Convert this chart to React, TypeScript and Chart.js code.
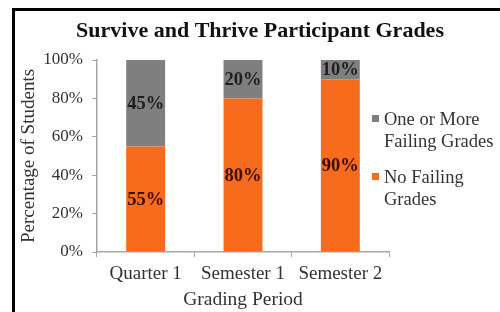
import React, { useEffect, useRef } from "react";
import { Chart, registerables } from "chart.js";

Chart.register(...registerables);

const TITLE = "Survive and Thrive Participant Grades";
const categories = ["Quarter 1", "Semester 1", "Semester 2"];
const noFailing = [55, 80, 90];
const oneOrMore = [45, 20, 10];
const legendNoFailing = ["No Failing", "Grades"];
const legendOneOrMore = ["One or More", "Failing Grades"];
const yTicks = [0, 20, 40, 60, 80, 100];
const xTitle = "Grading Period";
const yTitle = "Percentage of Students";

const ORANGE = "#F66B1C";
const GRAY = "#7F7F80";
const SERIF = "'Liberation Serif', 'Times New Roman', serif";

export default function App() {
  const ref = useRef<HTMLCanvasElement | null>(null);

  useEffect(() => {
    document.body.style.margin = "0";
    const canvas = ref.current;
    if (!canvas) return;

    const decor = {
      id: "decor",
      afterDraw(chart: any) {
        const ctx = chart.ctx;
        ctx.save();
        // frame (left & top)
        ctx.fillStyle = "#000";
        ctx.fillRect(12, 8, 3, 312);
        ctx.fillRect(12, 8, 500, 3);
        // title
        ctx.fillStyle = "#111";
        ctx.font = `bold 22px ${SERIF}`;
        ctx.textAlign = "center";
        ctx.textBaseline = "middle";
        ctx.fillText(TITLE, 260, 31);
        // legend
        const items = [
          { color: GRAY, lines: legendOneOrMore, y: 120 },
          { color: ORANGE, lines: legendNoFailing, y: 178 },
        ];
        ctx.font = `18.5px ${SERIF}`;
        ctx.textAlign = "left";
        items.forEach((it) => {
          ctx.fillStyle = it.color;
          ctx.fillRect(372, it.y - 5, 7, 7);
          ctx.fillStyle = "#333";
          it.lines.forEach((ln, i) => ctx.fillText(ln, 384, it.y + i * 22));
        });
        ctx.restore();
      },
      afterDatasetsDraw(chart: any) {
        const ctx = chart.ctx;
        ctx.save();
        ctx.font = `bold 18.5px ${SERIF}`;
        ctx.textAlign = "center";
        ctx.textBaseline = "middle";
        chart.data.datasets.forEach((ds: any, di: number) => {
          const meta = chart.getDatasetMeta(di);
          meta.data.forEach((bar: any, i: number) => {
            const v = ds.data[i];
            const cy = (bar.y + bar.base) / 2;
            ctx.fillStyle = di === 0 ? "#3a0f02" : "#1e1e1e";
            ctx.fillText(v + "%", bar.x, cy + 1);
          });
        });
        ctx.restore();
      },
    };

    const chart = new Chart(canvas, {
      type: "bar",
      data: {
        labels: categories,
        datasets: [
          {
            label: "No Failing Grades",
            data: noFailing,
            backgroundColor: ORANGE,
            categoryPercentage: 1,
            barPercentage: 0.4,
          },
          {
            label: "One or More Failing Grades",
            data: oneOrMore,
            backgroundColor: GRAY,
            categoryPercentage: 1,
            barPercentage: 0.4,
          },
        ],
      },
      options: {
        responsive: false,
        animation: false,
        layout: { padding: { top: 60, right: 111, left: 0, bottom: 0 } },
        plugins: {
          legend: { display: false },
          title: { display: false },
          tooltip: { enabled: false },
        },
        scales: {
          x: {
            stacked: true,
            afterFit(s: any) {
              s.height = 60;
            },
            grid: {
              offset: true,
              drawOnChartArea: false,
              color: "#A6A6A6",
              tickColor: "#A6A6A6",
              tickLength: 5,
            },
            border: { color: "#A6A6A6", width: 1.5 },
            ticks: {
              color: "#333",
              font: { family: SERIF, size: 19 },
              padding: 6,
            },
            title: {
              display: true,
              text: xTitle,
              color: "#333",
              font: { family: SERIF, size: 19.5 },
              padding: { top: 0, bottom: 0 },
            },
          },
          y: {
            stacked: true,
            min: 0,
            max: 100,
            afterFit(s: any) {
              s.width = 97;
            },
            afterBuildTicks(s: any) {
              s.ticks = yTicks.map((v) => ({ value: v }));
            },
            grid: {
              drawOnChartArea: false,
              color: "#A6A6A6",
              tickColor: "#A6A6A6",
              tickLength: 5,
            },
            border: { color: "#A6A6A6", width: 1.5 },
            ticks: {
              color: "#333",
              font: { family: SERIF, size: 17 },
              padding: 9,
              callback: (v: any) => v + "%",
            },
            title: {
              display: true,
              text: yTitle,
              color: "#333",
              font: { family: SERIF, size: 19 },
              padding: { top: 18, bottom: 0 },
            },
          },
        },
      },
      plugins: [decor],
    });

    return () => chart.destroy();
  }, []);

  return (
    <div style={{ width: 500, height: 312, background: "#fff" }}>
      <canvas ref={ref} width={500} height={312} />
    </div>
  );
}
